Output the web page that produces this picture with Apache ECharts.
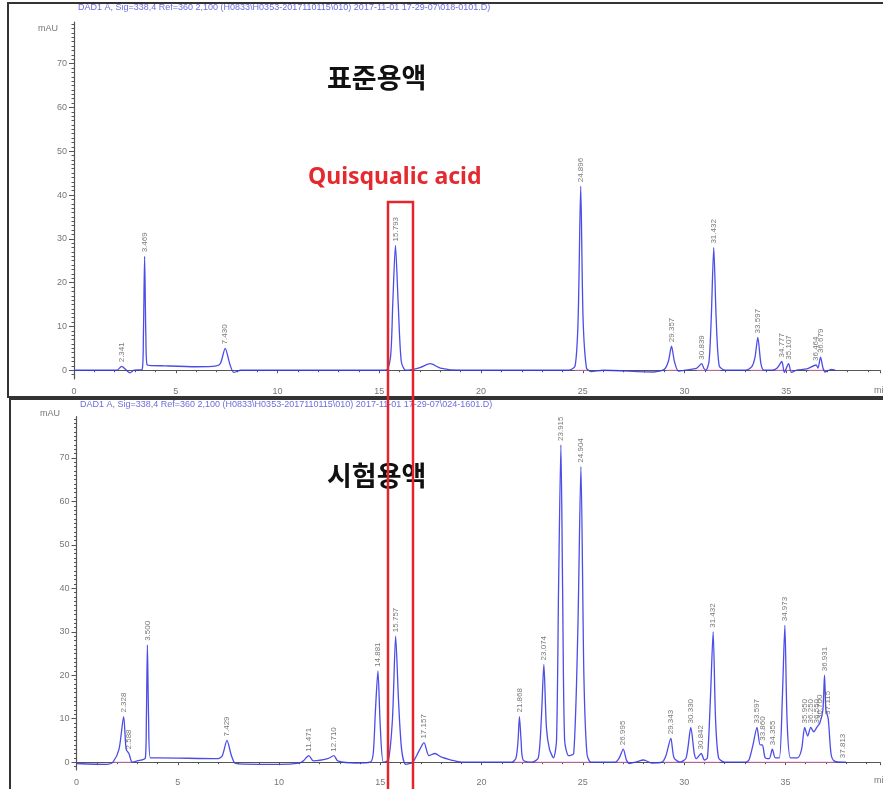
<!DOCTYPE html>
<html>
<head>
<meta charset="utf-8">
<script src="https://cdn.jsdelivr.net/npm/echarts@6/dist/echarts.min.js"></script>
<style>
  html, body { margin: 0; padding: 0; background: #fff; }
  #chart { width: 883px; height: 789px; }
</style>
</head>
<body>
<div id="chart"></div>
<script>
// Standard solution (표준용액) detector trace: [retention time (min), signal (mAU)]
const standardTrace = [
  [0, 0], [2.1, 0], [2.341, 0.9], [2.55, 0.1], [2.75, -0.6], [2.95, 0], [3.35, 0.2], [3.41, 8],
  [3.469, 26], [3.53, 8], [3.6, 1.2], [4.5, 1.0], [6.0, 0.8], [7.0, 1.0], [7.2, 1.6], [7.43, 5],
  [7.65, 1.5], [7.85, -0.5], [8.2, 0], [12, 0], [15.3, 0], [15.55, 3], [15.66, 15], [15.793, 28.5],
  [15.93, 15], [16.08, 2], [16.3, 0], [17.0, 0.6], [17.5, 1.5], [18, 0.5], [19, 0], [24.3, 0],
  [24.62, 1], [24.77, 12], [24.896, 42], [25.01, 12], [25.18, 0.5], [25.4, -0.3], [26, 0],
  [28.5, -0.4], [29.0, 0.2], [29.2, 2], [29.357, 5.5], [29.5, 2], [29.7, -0.2], [30.0, 0],
  [30.6, 0.5], [30.839, 1.5], [30.95, 0.4], [31.05, 0], [31.2, 2], [31.31, 12], [31.432, 28],
  [31.55, 12], [31.7, 1], [32, 0], [33, 0], [33.3, 0.8], [33.46, 3], [33.597, 7.5], [33.75, 1.5],
  [33.9, 0], [34.3, 0], [34.55, 0.5], [34.777, 2], [34.9, -0.5], [35.107, 1.5], [35.25, -0.5],
  [35.5, 0], [36.0, 0.3], [36.464, 1.2], [36.55, 0.5], [36.679, 3], [36.8, 0.5], [36.9, -0.4],
  [37.2, 0.2], [37.4, 0]
];
// Labelled peaks of the standard solution: [retention time, apex height]
const standardPeaks = [
  [2.341, 0.9], [3.469, 26], [7.430, 5], [15.793, 28.5], [24.896, 42], [29.357, 5.5],
  [30.839, 1.5], [31.432, 28], [33.597, 7.5], [34.777, 2], [35.107, 1.5], [36.464, 1.2], [36.679, 3]
];
// Integration baselines of the standard solution: [start, end] times at 0 mAU
const standardBaselines = [[24.6, 25.3], [29.1, 29.65], [30.6, 31.75], [33.25, 33.9], [34.4, 35.3], [36.1, 36.9]];

// Test solution (시험용액) detector trace
const sampleTrace = [
  [0, -0.3], [1.5, -0.5], [1.8, 0], [2.1, 3], [2.328, 10.5], [2.45, 3], [2.588, 2], [2.75, 0],
  [3.0, 0.3], [3.4, 1], [3.45, 10], [3.5, 27], [3.56, 10], [3.65, 1], [4, 1], [7.0, 0.8],
  [7.2, 1.5], [7.429, 5], [7.65, 1.5], [7.85, -0.3], [9, -0.5], [10, -0.5], [11, -0.2],
  [11.2, 0.3], [11.471, 1.5], [11.7, 0.3], [12.4, 0.8], [12.71, 1.5], [12.9, 0.3], [13.8, -0.2],
  [14.5, 0], [14.65, 2], [14.76, 12], [14.881, 21], [15.0, 8], [15.15, 0], [15.4, 0.5], [15.6, 10],
  [15.757, 29], [15.9, 14], [16.05, 3], [16.25, -0.5], [16.6, 0], [16.9, 2.5], [17.157, 4.5],
  [17.4, 1.5], [17.7, 2], [18.0, 1.2], [18.5, 0.5], [19, 0], [21.5, 0], [21.7, 1], [21.8, 5],
  [21.868, 10.5], [21.95, 5], [22.05, 0.5], [22.5, 0], [22.8, 1], [22.95, 10], [23.074, 22.5],
  [23.2, 8], [23.35, 3], [23.55, 1], [23.7, 5], [23.8, 40], [23.915, 73], [24.0, 40], [24.1, 5],
  [24.3, 1.5], [24.55, 2], [24.75, 30], [24.904, 68], [25.05, 20], [25.2, 2], [25.4, 0], [26.6, 0],
  [26.8, 1], [26.995, 3], [27.15, 0.5], [27.3, -0.3], [27.6, 0], [28.0, 0.5], [28.4, -0.2],
  [28.9, 0], [29.1, 1.5], [29.343, 5.5], [29.5, 1], [29.8, 0], [30.1, 1], [30.33, 8], [30.5, 2],
  [30.6, 0.8], [30.842, 2], [31.0, 0.5], [31.15, 1], [31.3, 15], [31.432, 30], [31.55, 10],
  [31.7, 1], [32, 0], [33, 0], [33.2, 0.5], [33.4, 4], [33.597, 8], [33.75, 4], [33.86, 4],
  [34.0, 1], [34.2, 0.8], [34.355, 3], [34.5, 1], [34.7, 1], [34.85, 15], [34.973, 31.5],
  [35.08, 10], [35.25, 1], [35.6, 1], [35.8, 3], [35.95, 8], [36.1, 6], [36.25, 8], [36.4, 7],
  [36.55, 8], [36.7, 9], [36.85, 12], [36.931, 20], [37.0, 12], [37.115, 10], [37.25, 2],
  [37.4, 0.3], [37.813, 0], [38.0, 0]
];
// Labelled peaks of the test solution
const samplePeaks = [
  [2.328, 10.5], [2.588, 2], [3.500, 27], [7.429, 5], [11.471, 1.5], [12.710, 1.5], [14.881, 21],
  [15.757, 29], [17.157, 4.5], [21.868, 10.5], [23.074, 22.5], [23.915, 73], [24.904, 68],
  [26.995, 3], [29.343, 5.5], [30.330, 8], [30.842, 2], [31.432, 30], [33.597, 8], [33.860, 4],
  [34.355, 3], [34.973, 31.5], [35.950, 8], [36.250, 8], [36.550, 8], [36.700, 9], [36.931, 20],
  [37.115, 10], [37.813, 0]
];
// Integration baselines of the test solution
const sampleBaselines = [[1.8, 2.75], [21.6, 25.4], [26.6, 27.3], [29.0, 31.75], [33.1, 37.5]];

// Axis ticks
const timeTicks = [0, 5, 10, 15, 20, 25, 30, 35];
const signalTicks = [0, 10, 20, 30, 40, 50, 60, 70];
const signalMinorTicks = [];
for (let v = -1; v <= 79; v++) signalMinorTicks.push(v);

const traceColor = '#3838e4';
const axisGray = '#555';
const font = 'Liberation Sans, Arial, sans-serif';

function xAxisFor(gridIndex, max) {
  return {
    type: 'value', gridIndex, min: 0, max, interval: 5,
    axisLine: { lineStyle: { color: axisGray, width: 1.2 } },
    axisTick: { length: 3, lineStyle: { color: axisGray } },
    minorTick: { show: true, splitNumber: 5, length: 2, lineStyle: { color: axisGray } },
    axisLabel: {
      color: '#777', fontSize: 9, fontFamily: font, margin: 8,
      formatter: v => timeTicks.includes(v) ? String(v) : ''
    },
    splitLine: { show: false }
  };
}
function yAxesFor(gridIndex, min) {
  return [{
    type: 'value', gridIndex, min, max: 79.5,
    axisLine: { show: true, lineStyle: { color: axisGray, width: 1.2 } },
    axisTick: { show: true, length: 5, customValues: signalTicks, lineStyle: { color: axisGray } },
    axisLabel: { color: '#777', fontSize: 9, fontFamily: font, margin: 7, customValues: signalTicks },
    splitLine: { show: false }
  }, {
    type: 'value', gridIndex, min, max: 79.5, position: 'left',
    axisLine: { show: false },
    axisTick: { show: true, length: 2.5, customValues: signalMinorTicks, lineStyle: { color: axisGray } },
    axisLabel: { show: false },
    splitLine: { show: false }
  }];
}
function traceSeries(axisIndex, data) {
  return {
    type: 'line', xAxisIndex: axisIndex, yAxisIndex: axisIndex * 2, data,
    symbol: 'none', smooth: 0.25, clip: false,
    lineStyle: { color: traceColor, width: 1.3, opacity: 0.9 }, z: 3
  };
}
function baselineSeries(axisIndex, spans) {
  const pts = [];
  spans.forEach(([a, b]) => { pts.push([a, 0], [b, 0], [b, null]); });
  return {
    type: 'line', xAxisIndex: axisIndex, yAxisIndex: axisIndex * 2, data: pts,
    symbol: 'none', connectNulls: false, silent: true,
    lineStyle: { color: '#f07cc0', width: 1, opacity: 0.8 }, z: 2
  };
}
function peakLabelSeries(axisIndex, data) {
  return {
    type: 'scatter', xAxisIndex: axisIndex, yAxisIndex: axisIndex * 2, data,
    symbolSize: 0, silent: true, z: 4,
    label: {
      show: true, position: 'top', distance: 4, rotate: 90, align: 'left', verticalAlign: 'middle',
      color: '#555', fontSize: 8, fontFamily: font,
      formatter: p => p.value[0].toFixed(3)
    }
  };
}

const yTop = yAxesFor(0, -2);
const yBottom = yAxesFor(1, -1.8);

const option = {
  backgroundColor: '#fff',
  animation: false,
  grid: [
    { left: 74, top: 22, width: 809, height: 357 },
    { left: 76.5, top: 416.7, width: 806.5, height: 353.3 }
  ],
  xAxis: [xAxisFor(0, 39.6), xAxisFor(1, 39.67)],
  yAxis: [yTop[0], yTop[1], yBottom[0], yBottom[1]],
  series: [
    baselineSeries(0, standardBaselines),
    traceSeries(0, standardTrace),
    peakLabelSeries(0, standardPeaks),
    baselineSeries(1, sampleBaselines),
    traceSeries(1, sampleTrace),
    peakLabelSeries(1, samplePeaks)
  ],
  graphic: [
    // panel frames
    { type: 'polyline', shape: { points: [[883, 3], [8, 3], [8, 397], [883, 397]] },
      style: { stroke: '#333', lineWidth: 2, fill: null }, z: 10 },
    { type: 'polyline', shape: { points: [[10, 789], [10, 399], [883, 399]] },
      style: { stroke: '#333', lineWidth: 2, fill: null }, z: 10 },
    // detector headers
    { type: 'text', left: 78, top: 3, z: 11,
      style: { text: 'DAD1 A, Sig=338,4 Ref=360 2,100 (H0833\\H0353-2017110115\\010) 2017-11-01 17-29-07\\018-0101.D)',
        fill: '#4646d8', font: '9px ' + font, opacity: 0.8 } },
    { type: 'text', left: 80, top: 400, z: 11,
      style: { text: 'DAD1 A, Sig=338,4 Ref=360 2,100 (H0833\\H0353-2017110115\\010) 2017-11-01 17-29-07\\024-1601.D)',
        fill: '#4646d8', font: '9px ' + font, opacity: 0.8 } },
    // axis units
    { type: 'text', left: 38, top: 24, style: { text: 'mAU', fill: '#777', font: '9px ' + font } },
    { type: 'text', left: 40, top: 409, style: { text: 'mAU', fill: '#777', font: '9px ' + font } },
    { type: 'text', left: 874, top: 386, style: { text: 'min', fill: '#777', font: '9px ' + font } },
    { type: 'text', left: 874, top: 776, style: { text: 'min', fill: '#777', font: '9px ' + font } },
    // panel titles
    { type: 'text', left: 327, top: 64, z: 12,
      style: { text: '표준용액', fill: '#111', font: 'bold 27px "Noto Sans CJK KR", sans-serif' } },
    { type: 'text', left: 327, top: 462, z: 12,
      style: { text: '시험용액', fill: '#111', font: 'bold 27px "Noto Sans CJK KR", sans-serif' } },
    { type: 'text', left: 308, top: 166, z: 12,
      style: { text: 'Quisqualic acid', fill: '#e42a2f', font: 'bold 23px "Noto Sans", sans-serif' } },
    // highlighted retention window
    { type: 'rect', shape: { x: 388, y: 202, width: 25, height: 600 }, z: 13,
      style: { stroke: '#e4262c', lineWidth: 2.5, fill: null } }
  ]
};

echarts.init(document.getElementById('chart'), null, { renderer: 'canvas' }).setOption(option);
</script>
</body>
</html>
